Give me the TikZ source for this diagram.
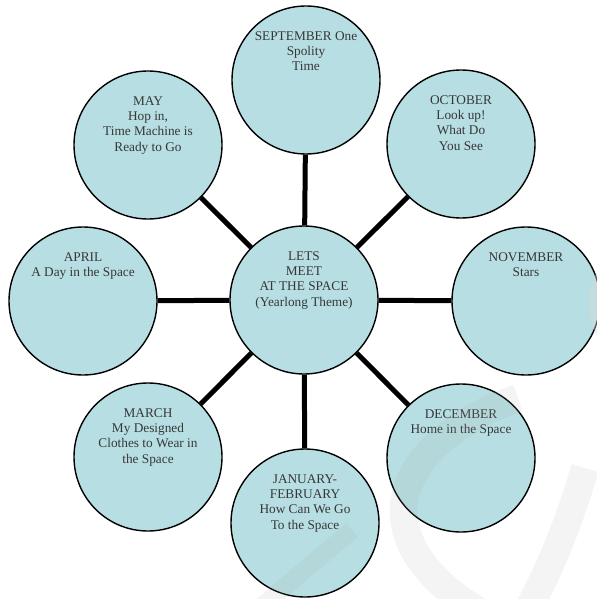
\documentclass[tikz,border=0pt]{standalone}
\usepackage{fontspec}
\setmainfont{Liberation Serif}
\definecolor{cfill}{RGB}{183,222,226}
\definecolor{txt}{RGB}{55,55,55}
\begin{document}
\begin{tikzpicture}[x=1bp,y=-1bp,
  month/.style={circle, draw=black, line width=1.4bp, fill=cfill,
                minimum size=148bp, inner sep=0pt},
  monthtext/.style={font=\fontsize{13.3bp}{15.3bp}\selectfont, text=txt,
                    align=center, inner sep=0pt, anchor=north},
  link/.style={draw=black, line width=5bp},
  wm/.style={draw=gray!70, opacity=0.12, line width=28bp}]
  \useasboundingbox (0,0) rectangle (597,599);

  % hub and the eight months around it
  \node[month] (c)   at (304,300) {};
  \node[month] (sep) at (306,80)  {};
  \node[month] (oct) at (461,144) {};
  \node[month] (nov) at (526,301) {};
  \node[month] (dec) at (461,458) {};
  \node[month] (jan) at (305,523) {};
  \node[month] (mar) at (148,457) {};
  \node[month] (apr) at (83,301)  {};
  \node[month] (may) at (148,145) {};

  % spokes
  \foreach \n in {sep,oct,nov,dec,jan,mar,apr,may}
    \draw[link] (c) -- (\n);

  % texts
  \node[monthtext] (tc)   at ([yshift=-26bp]c.north)   {LETS\\MEET\\AT THE SPACE\\(Yearlong Theme)};
  \node[monthtext] (tsep) at ([yshift=-26bp]sep.north) {SEPTEMBER One\\Spolity\\Time};
  \node[monthtext] (toct) at ([yshift=-26bp]oct.north) {OCTOBER\\Look up!\\What Do\\You See};
  \node[monthtext] (tnov) at ([yshift=-26bp]nov.north) {NOVEMBER\\Stars};
  \node[monthtext] (tdec) at ([yshift=-26bp]dec.north) {DECEMBER\\Home in the Space};
  \node[monthtext] (tjan) at ([yshift=-26bp]jan.north) {JANUARY-\\FEBRUARY\\How Can We Go\\To the Space};
  \node[monthtext] (tmar) at ([yshift=-26bp]mar.north) {MARCH\\My Designed\\Clothes to Wear in\\the Space};
  \node[monthtext] (tapr) at ([yshift=-26bp]apr.north) {APRIL\\A Day in the Space};
  \node[monthtext] (tmay) at ([yshift=-26bp]may.north) {MAY\\Hop in,\\Time Machine is\\Ready to Go};

  % faint mark in the lower right
  \draw[wm] (518,398) .. controls (440,425) and (395,475) .. (405,525)
            .. controls (413,565) and (450,595) .. (485,615)
            (585,468) .. controls (570,520) and (550,570) .. (525,615);
  \draw[wm, line width=18bp] (352,530) -- (255,612);
  \draw[draw=gray!30, opacity=0.4, line width=14bp]
        (612,265) .. controls (590,285) and (590,320) .. (612,345);
\end{tikzpicture}
\end{document}
